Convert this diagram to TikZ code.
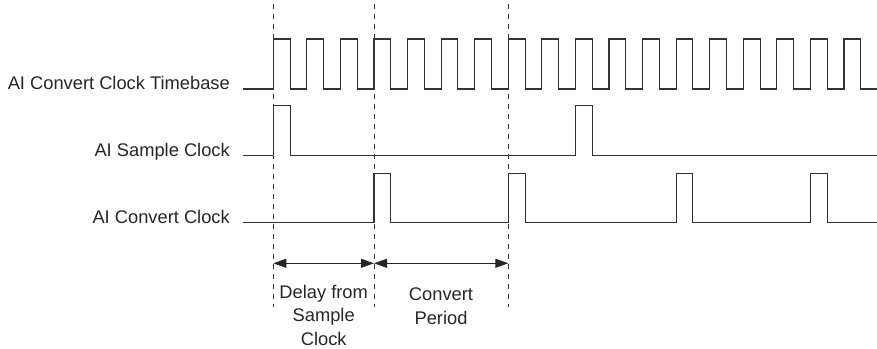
\documentclass[tikz,border=0pt]{standalone}
\usepackage{fontspec}
\setmainfont{Liberation Sans}
\usetikzlibrary{arrows.meta}
\begin{document}
\begin{tikzpicture}[x=1pt,y=-1pt,
  wave/.style={line width=1.1pt, black!80, line join=miter},
  guide/.style={line width=0.9pt, black!80, dash pattern=on 4.5pt off 5.5pt},
  span/.style={line width=1pt, black!85, {Triangle[length=13pt,width=9pt]}-{Triangle[length=13pt,width=9pt]}},
  lbl/.style={font=\fontsize{18.3}{23.5}\selectfont, text=black!85, inner sep=0pt}]
\useasboundingbox (0,0) rectangle (877,348);
% timebase
\draw[wave] (243,89) \foreach \k in {0,...,17} { -- ({273.3+\k*33.57},89) -- ++(0,-50) -- ++(16.78,0) -- ++(0,50) } -- (877,89);
% sample clock
\draw[wave] (243,155.7) -- (273.3,155.7) -- ++(0,-50) -- ++(16.78,0) -- ++(0,50)
  -- (575.4,155.7) -- ++(0,-50) -- ++(16.78,0) -- ++(0,50) -- (877,155.7);
% convert clock
\draw[wave] (243,222.7) \foreach \k in {3,7,12,16} { -- ({273.3+\k*33.57},222.7) -- ++(0,-49.4) -- ++(16.78,0) -- ++(0,49.4) } -- (877,222.7);
% guides
\coordinate (g1t) at (273.3,4);  \coordinate (g1b) at (273.3,307);
\coordinate (g2t) at (374.0,4);  \coordinate (g2b) at (374.0,307);
\coordinate (g3t) at (508.3,4);  \coordinate (g3b) at (508.3,307);
\draw[guide] (g1t) -- (g1b);
\draw[guide] (g2t) -- (g2b);
\draw[guide] (g3t) -- (g3b);
% spans
\coordinate (a1) at (273.3,263.3);
\coordinate (a2) at (374.0,263.3);
\coordinate (a3) at (508.3,263.3);
\draw[span] (a1) -- (a2);
\draw[span] (a2) -- (a3);
% labels
\node[lbl, anchor=base east] (ltb) at (230,89.3) {AI Convert Clock Timebase};
\node[lbl, anchor=base east] (lsc) at (230,156) {AI Sample Clock};
\node[lbl, anchor=base east] (lcc) at (230,223) {AI Convert Clock};
\node[lbl, anchor=base, align=center] (ldelay) at (323.7,345) {Delay from\\Sample\\Clock};
\node[lbl, anchor=base, align=center] (lconv) at (441,324.3) {Convert\\Period};
\end{tikzpicture}
\end{document}
